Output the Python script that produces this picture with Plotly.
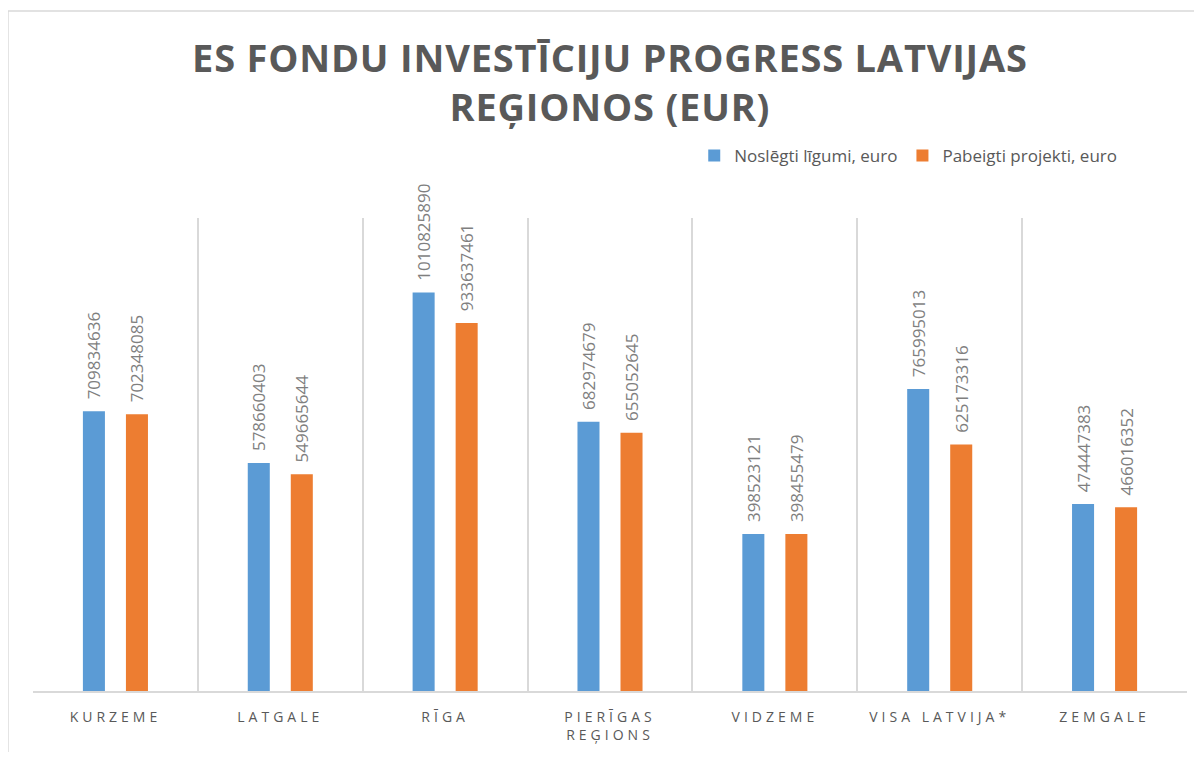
import plotly.graph_objects as go

categories = ["KURZEME", "LATGALE", "RĪGA", "PIERĪGAS<br>REĢIONS", "VIDZEME", "VISA LATVIJA*", "ZEMGALE"]
series_names = ["Noslēgti līgumi, euro", "Pabeigti projekti, euro"]
noslegti = [709834636, 578660403, 1010825890, 682974679, 398523121, 765995013, 474447383]
pabeigti = [702348085, 549665644, 933637461, 655052645, 398455479, 625173316, 466016352]
colors = ["#5B9BD5", "#ED7D31"]
title_text = "ES FONDU INVESTĪCIJU PROGRESS LATVIJAS<br>REĢIONOS (EUR)"

fig = go.Figure()
for name, vals, col in zip(series_names, [noslegti, pabeigti], colors):
    fig.add_trace(go.Bar(
        x=categories, y=vals, name=name,
        marker=dict(color=col, line=dict(width=0)),
        text=["\u00a0\u00a0" + str(v) for v in vals], textposition="outside", textangle=-90,
        textfont=dict(family="Open Sans", size=17, color="#7F7F7F"),
        cliponaxis=False, constraintext="none",
    ))

fig.update_layout(
    width=1186, height=744,
    margin=dict(l=25, r=7, t=210, b=61),
    paper_bgcolor="white", plot_bgcolor="white",
    barmode="group", bargap=0.478, bargroupgap=0.488,
    title=dict(text=title_text, x=0.5075, xanchor="center", y=0.914, yanchor="middle",
               font=dict(family="Open Sans", size=38, color="#595959", weight="bold")),
    legend=dict(orientation="h", x=0.573, xanchor="left", y=1.131, yanchor="middle",
                font=dict(family="Open Sans", size=17, color="#595959"),
                itemwidth=30, traceorder="normal", bgcolor="rgba(0,0,0,0)"),
    xaxis=dict(type="category", tickson="boundaries", showgrid=True, gridcolor="#D9D9D9",
               gridwidth=1.5, showline=True, linecolor="#D9D9D9", linewidth=1.5, ticks="",
               ticklabelstandoff=12,
               tickfont=dict(family="Open Sans", size=14, color="#595959"), tickangle=0),
    yaxis=dict(visible=False, range=[0, 1.2e9]),
    showlegend=True,
)

fig.add_shape(type="rect", xref="paper", yref="paper", x0=-0.0217, y0=-0.3, x1=1.05, y1=1.4376,
              line=dict(color="#D9D9D9", width=1.5), fillcolor="rgba(0,0,0,0)", layer="below")

post = """
function ls(){
  document.querySelectorAll('.xtick text, .xtick text tspan').forEach(function(t){t.style.letterSpacing='4px';});
  document.querySelectorAll('.gtitle').forEach(function(t){t.style.letterSpacing='0.8px';});
}
ls();
var gd = document.getElementsByClassName('plotly-graph-div')[0];
if (gd && gd.on) { gd.on('plotly_afterplot', ls); }
"""
fig.write_html("out.html", post_script=post)
